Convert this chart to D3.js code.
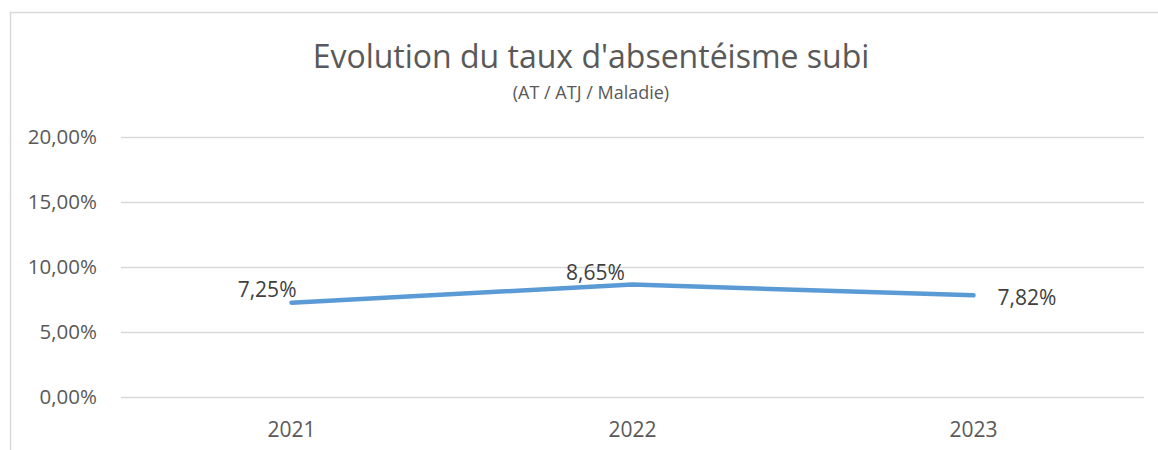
<!DOCTYPE html>
<html lang="fr">
<head>
  <meta charset="utf-8">
  <title>Evolution du taux d'absentéisme subi</title>
  <script src="https://d3js.org/d3.v7.min.js"></script>
  <style>
    body { margin: 0; background: #fff; }
    text { font-family: "Open Sans", sans-serif; }
  </style>
</head>
<body>
<script>
  // data
  var years = ["2021", "2022", "2023"];
  var rates = [7.25, 8.65, 7.82];
  var yTicks = [0, 5, 10, 15, 20];
  // label placement relative to the point: [dx, dy, anchor]
  var labelPos = [[5, -13, "end"], [-37, -12, "middle"], [24, 2, "start"]];

  var w = 1158, h = 450;
  var plotLeft = 121, plotRight = 1144, plotTop = 137, plotBottom = 397;

  var svg = d3.select("body").append("svg")
    .attr("width", w)
    .attr("height", h);

  // chart border
  svg.append("rect")
    .attr("x", 10.5).attr("y", 12.5)
    .attr("width", 1170).attr("height", 460)
    .attr("fill", "none")
    .attr("stroke", "#d9d9d9")
    .attr("stroke-width", 1.5);

  var x = d3.scaleBand().domain(years).range([plotLeft, plotRight]);
  var y = d3.scaleLinear().domain([0, 20]).range([plotBottom, plotTop]);

  var fmt = function(v) { return d3.format(".2f")(v).replace(".", ",") + "%"; };

  // gridlines
  svg.selectAll("line.grid")
    .data(yTicks)
    .enter()
    .append("line")
    .attr("class", "grid")
    .attr("x1", plotLeft).attr("x2", plotRight)
    .attr("y1", function(d) { return Math.round(y(d)) + 0.5; })
    .attr("y2", function(d) { return Math.round(y(d)) + 0.5; })
    .attr("stroke", "#d9d9d9")
    .attr("stroke-width", 1.3);

  // y tick labels
  svg.selectAll("text.ytick")
    .data(yTicks)
    .enter()
    .append("text")
    .attr("class", "ytick")
    .attr("x", 97)
    .attr("y", function(d) { return y(d); })
    .attr("dy", "0.36em")
    .attr("text-anchor", "end")
    .attr("font-size", "20.5px")
    .attr("fill", "#595959")
    .text(fmt);

  // x tick labels
  svg.selectAll("text.xtick")
    .data(years)
    .enter()
    .append("text")
    .attr("class", "xtick")
    .attr("x", function(d) { return x(d) + x.bandwidth() / 2; })
    .attr("y", 437)
    .attr("text-anchor", "middle")
    .attr("font-size", "21px")
    .attr("fill", "#595959")
    .text(function(d) { return d; });

  // line
  var line = d3.line()
    .x(function(d, i) { return x(years[i]) + x.bandwidth() / 2; })
    .y(function(d) { return y(d); });

  svg.append("path")
    .datum(rates)
    .attr("d", line)
    .attr("fill", "none")
    .attr("stroke", "#5b9bd5")
    .attr("stroke-width", 4.5)
    .attr("stroke-linecap", "round")
    .attr("stroke-linejoin", "round");

  // data labels
  svg.selectAll("text.lbl")
    .data(rates)
    .enter()
    .append("text")
    .attr("class", "lbl")
    .attr("x", function(d, i) { return x(years[i]) + x.bandwidth() / 2 + labelPos[i][0]; })
    .attr("y", function(d, i) { return y(d) + labelPos[i][1]; })
    .attr("dy", "0.36em")
    .attr("text-anchor", function(d, i) { return labelPos[i][2]; })
    .attr("font-size", "21px")
    .attr("fill", "#404040")
    .text(fmt);

  // titles
  svg.append("text")
    .attr("x", 591).attr("y", 68)
    .attr("text-anchor", "middle")
    .attr("font-size", "32px")
    .attr("fill", "#595959")
    .text("Evolution du taux d'absentéisme subi");

  svg.append("text")
    .attr("x", 591).attr("y", 99)
    .attr("text-anchor", "middle")
    .attr("font-size", "18px")
    .attr("fill", "#595959")
    .text("(AT / ATJ / Maladie)");
</script>
</body>
</html>
